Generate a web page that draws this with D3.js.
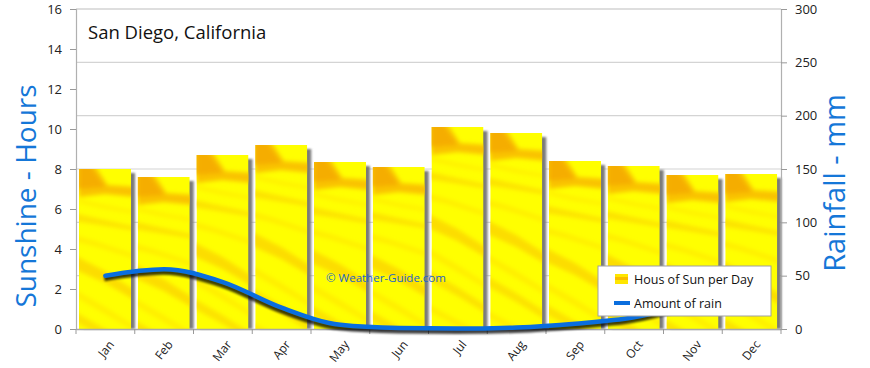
<!DOCTYPE html>
<html>
<head>
<meta charset="utf-8">
<script src="https://cdn.jsdelivr.net/npm/d3@7"></script>
<style>
  html, body { margin: 0; padding: 0; background: #fff; }
  svg { display: block; }
  text { font-family: "Open Sans", "DejaVu Sans", sans-serif; }
</style>
</head>
<body>
<svg id="chart" width="870" height="368"></svg>
<script>
const title = "San Diego, California";
const months = ["Jan","Feb","Mar","Apr","May","Jun","Jul","Aug","Sep","Oct","Nov","Dec"];
const sunHours = [8.0, 7.6, 8.7, 9.2, 8.35, 8.1, 10.1, 9.8, 8.4, 8.15, 7.7, 7.75];
const rainMm = [50, 56, 44, 20, 4, 1, 0.5, 1.5, 5, 11, 24, 38];
const leftTicks = [0, 2, 4, 6, 8, 10, 12, 14, 16];
const rightTicks = [0, 50, 100, 150, 200, 250, 300];
const legendLabels = ["Hous of Sun per Day", "Amount of rain"];
const axisTitles = ["Sunshine - Hours", "Rainfall - mm"];
const watermark = "\u00A9  Weather-Guide.com";

const svg = d3.select("#chart");
const L = 76, R = 781, T = 9, B = 329;

const x = d3.scaleBand().domain(months).range([L, R]).padding(0);
const yL = d3.scaleLinear().domain([0, 16]).range([B, T]);
const yR = d3.scaleLinear().domain([0, 300]).range([B, T]);

const defs = svg.append("defs");
const blur = defs.append("filter").attr("id", "blur").attr("x", "-20%").attr("y", "-20%").attr("width", "140%").attr("height", "140%");
blur.append("feGaussianBlur").attr("stdDeviation", 2.2);
const blurS = defs.append("filter").attr("id", "blurS").attr("x", "-50%").attr("y", "-20%").attr("width", "200%").attr("height", "140%");
blurS.append("feGaussianBlur").attr("stdDeviation", 0.8);
const blurL = defs.append("filter").attr("id", "blurL").attr("x", "-10%").attr("y", "-50%").attr("width", "120%").attr("height", "200%");
blurL.append("feGaussianBlur").attr("stdDeviation", 1.3);

// gridlines (from right axis)
svg.append("g").selectAll("line").data(rightTicks.filter(d => d > 0)).join("line")
  .attr("x1", L).attr("x2", R)
  .attr("y1", d => yR(d)).attr("y2", d => yR(d))
  .attr("stroke", "#d4d4d4").attr("stroke-width", 1.2);

// bars
const pad = 3;
const bw = x.bandwidth() * 0.885;
const bars = svg.append("g");
months.forEach((m, i) => {
  const bx = x(m) + pad, ty = yL(sunHours[i]), h = B - ty;
  bars.append("rect").attr("x", bx + 4).attr("y", ty + 4).attr("width", bw).attr("height", h - 4)
    .attr("fill", "#7a7a7a").attr("filter", "url(#blurS)");
  const cid = "clip" + i;
  defs.append("clipPath").attr("id", cid).append("rect")
    .attr("x", bx).attr("y", ty).attr("width", bw).attr("height", h);
  const g = bars.append("g").attr("clip-path", `url(#${cid})`);
  g.append("rect").attr("x", bx).attr("y", ty).attr("width", bw).attr("height", h).attr("fill", "#ffff00");
  const tex = g.append("g").attr("filter", "url(#blur)");
  const P = (pts) => pts.map(p => [bx + p[0] * bw, ty + p[1]]);
  const shapes = [
    { pts: [[0, -4], [0.3, -4], [0.55, 16], [1.1, 18], [1.1, 28], [0.5, 25], [0, 28]], c: "#f8b400", o: 0.8 },
    { pts: [[-0.1, -4], [0.2, -4], [0.5, 18], [-0.1, 20]], c: "#f39a00", o: 0.55 },
    { pts: [[0, 30], [0.5, 36], [1.1, 42], [1.1, 45], [0.5, 40], [0, 34]], c: "#ffd200", o: 0.35 },
    { pts: [[-0.1, 44], [0.4, 50], [1.1, 58], [1.1, 62], [0.4, 56], [-0.1, 52]], c: "#f8b800", o: 0.4 },
    { pts: [[-0.1, 66], [0.3, 72], [1.1, 86], [1.1, 90], [0.3, 77], [-0.1, 72]], c: "#ffc400", o: 0.3 },
    { pts: [[-0.1, 86], [0.5, 102], [1.1, 122], [1.1, 132], [0.5, 114], [-0.1, 100]], c: "#f8b400", o: 0.45 },
    { pts: [[-0.1, 120], [0.5, 138], [1.1, 158], [1.1, 163], [0.5, 145], [-0.1, 127]], c: "#ffc800", o: 0.3 },
    { pts: [[-0.1, 142], [0.5, 160], [1.1, 180], [1.1, 188], [0.5, 169], [-0.1, 152]], c: "#f8b800", o: 0.4 },
    { pts: [[-0.1, 176], [0.6, 196], [1.1, 210], [1.1, 215], [0.6, 202], [-0.1, 183]], c: "#ffc400", o: 0.3 }
  ];
  shapes.forEach(s => tex.append("polygon").attr("points", P(s.pts).map(p => p.join(",")).join(" "))
    .attr("fill", s.c).attr("opacity", s.o));
});

svg.append("line").attr("x1", L).attr("x2", R).attr("y1", T).attr("y2", T).attr("stroke", "#d4d4d4").attr("stroke-width", 1.2);

const axL = svg.append("g").attr("transform", `translate(${L},0)`)
  .call(d3.axisLeft(yL).tickValues(leftTicks).tickSize(6).tickPadding(8));
const axR = svg.append("g").attr("transform", `translate(${R},0)`)
  .call(d3.axisRight(yR).tickValues(rightTicks).tickSize(6).tickPadding(8));
[axL, axR].forEach(a => {
  a.select(".domain").attr("stroke", "#b0b0b0").attr("stroke-width", 1.2);
  a.selectAll(".tick line").attr("stroke", "#999");
  a.selectAll(".tick text").attr("font-size", 13).attr("fill", "#222")
    .style("font-family", "'Open Sans', sans-serif");
});

const axB = svg.append("g").attr("transform", `translate(0,${B})`)
  .call(d3.axisBottom(x).tickSize(0).tickPadding(0));
axB.select(".domain").attr("stroke", "#a8a8a8").attr("stroke-width", 1.4);
axB.selectAll(".tick text").attr("font-size", 12).attr("fill", "#222")
  .attr("text-anchor", "end")
  .attr("transform", "translate(6,13) rotate(-52)")
  .attr("dy", "0.35em");
svg.append("g").selectAll("line").data(d3.range(months.length + 1)).join("line")
  .attr("x1", i => L + i * x.step()).attr("x2", i => L + i * x.step())
  .attr("y1", B).attr("y2", B + 5).attr("stroke", "#999");

svg.append("text").attr("x", 326).attr("y", 282).attr("font-size", 11.5).attr("fill", "#1c64c8")
  .text(watermark);

const line = d3.line().x((d, i) => x(months[i]) + x.bandwidth() / 2).y(d => yR(d)).curve(d3.curveMonotoneX);
svg.append("path").datum(rainMm).attr("d", line).attr("fill", "none")
  .attr("stroke", "#000").attr("stroke-width", 5).attr("opacity", 0.75)
  .attr("transform", "translate(-1,3)").attr("filter", "url(#blurL)");
svg.append("path").datum(rainMm).attr("d", line).attr("fill", "none")
  .attr("stroke", "#0a6ede").attr("stroke-width", 4.5).attr("stroke-linecap", "round");

const lg = svg.append("g").attr("transform", "translate(598,266)");
lg.append("rect").attr("width", 173).attr("height", 50).attr("fill", "#fff").attr("stroke", "#a0a0a0");
lg.append("rect").attr("x", 17).attr("y", 8).attr("width", 13).attr("height", 10).attr("fill", "#ffe600");
lg.append("rect").attr("x", 17).attr("y", 11).attr("width", 13).attr("height", 3).attr("fill", "#f7b000").attr("opacity", 0.8);
lg.append("line").attr("x1", 16).attr("x2", 32).attr("y1", 37).attr("y2", 37).attr("stroke", "#0a6ede").attr("stroke-width", 4);
lg.append("text").attr("x", 36).attr("y", 18).attr("font-size", 12.5).attr("fill", "#111").text(legendLabels[0]);
lg.append("text").attr("x", 36).attr("y", 42).attr("font-size", 12.5).attr("fill", "#111").text(legendLabels[1]);

svg.append("text").attr("x", 88).attr("y", 39).attr("font-size", 18.5).attr("fill", "#111").text(title);

svg.append("text").attr("transform", `translate(36,${(82 + 310) / 2}) rotate(-90)`)
  .attr("text-anchor", "middle").attr("font-size", 28).attr("fill", "#1577d8").text(axisTitles[0]);
svg.append("text").attr("transform", `translate(845,${(93 + 273) / 2}) rotate(-90)`)
  .attr("text-anchor", "middle").attr("font-size", 29).attr("fill", "#1577d8").text(axisTitles[1]);
</script>
</body>
</html>
